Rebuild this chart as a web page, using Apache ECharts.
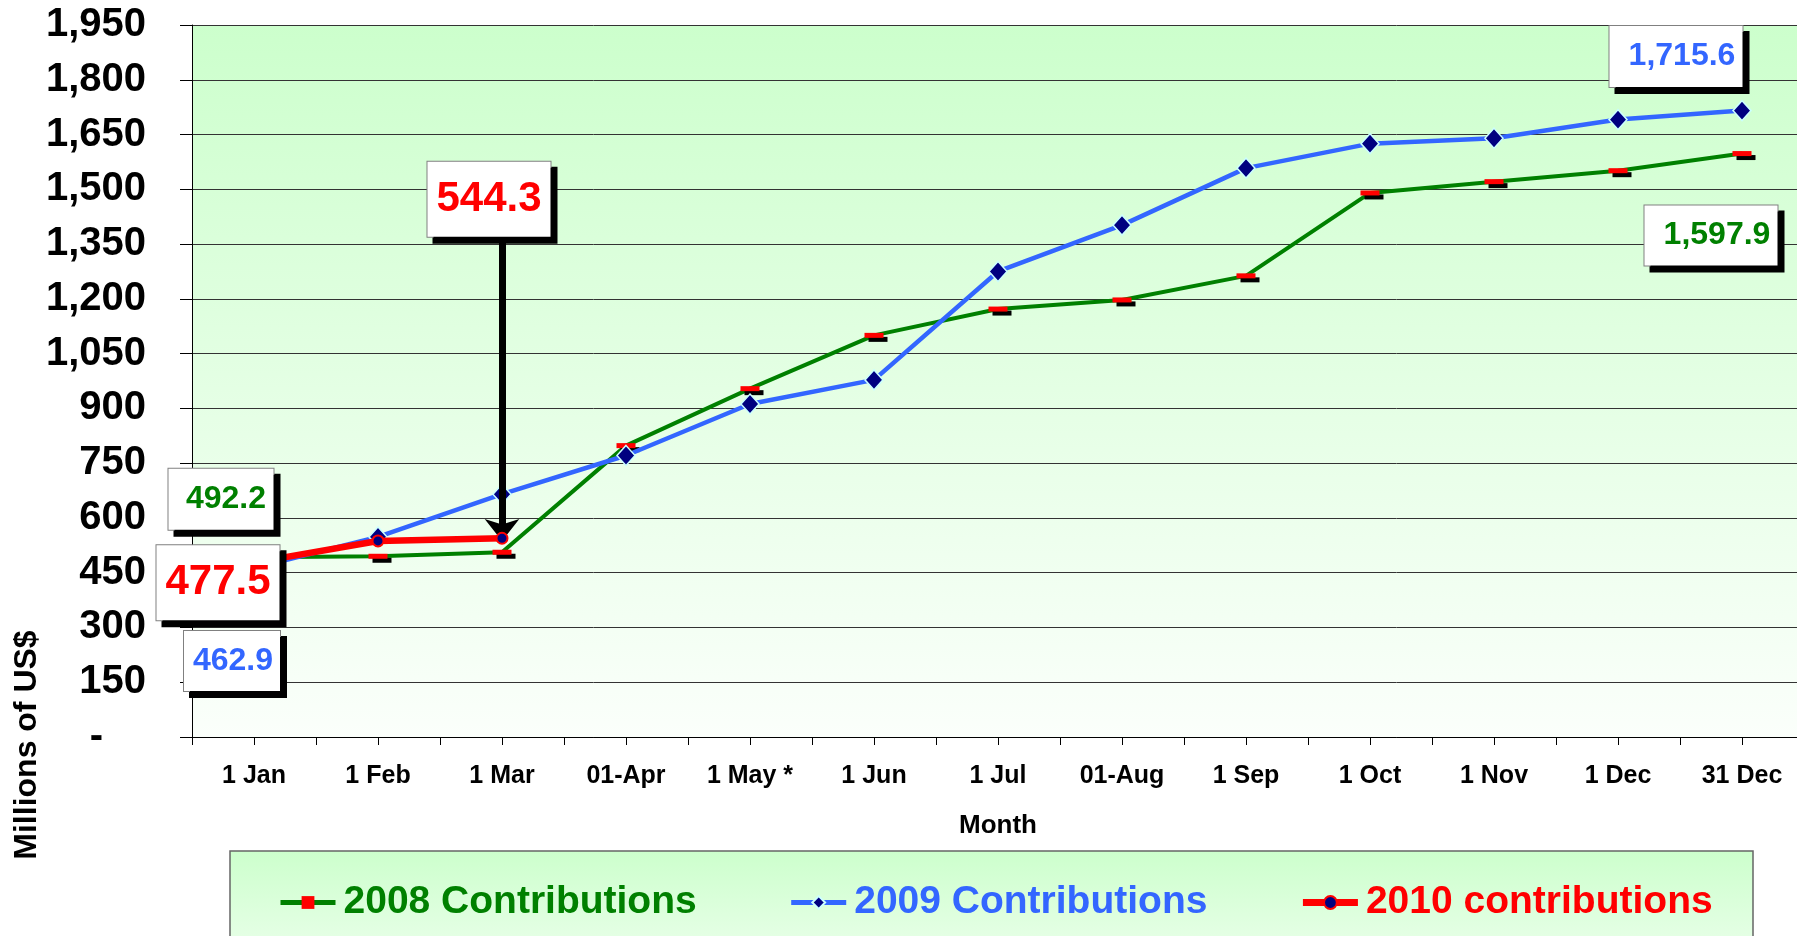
<!DOCTYPE html>
<html>
<head>
<meta charset="utf-8">
<title>Contributions</title>
<script src="https://cdn.jsdelivr.net/npm/echarts@6/dist/echarts.min.js"></script>
<style>
  html, body { margin: 0; padding: 0; background: #fff; }
  #chart { width: 1797px; height: 936px; }
</style>
</head>
<body>
<div id="chart"></div>
<script>
const months = ['1 Jan', '1 Feb', '1 Mar', '01-Apr', '1 May *', '1 Jun', '1 Jul', '01-Aug', '1 Sep', '1 Oct', '1 Nov', '1 Dec', '31 Dec']
const contrib2008 = [492.2, 495, 506, 798, 954, 1100, 1172, 1197, 1263, 1490, 1521, 1551, 1597.9]
const contrib2009 = [462.9, 548, 665, 771, 912, 978, 1275, 1402, 1558, 1625, 1640, 1691, 1715.6]
const contrib2010 = [477.5, 537, 544.3]
const yTicks = { min: 0, max: 1950, step: 150 }

const FONT = "'Liberation Sans', Arial, sans-serif"
const GREEN = '#008000'
const BLUE = '#3366FF'
const RED = '#FF0000'

// callout box style for a data label
function callout(color, size, w, h, offset, pad) {
  return {
    show: true,
    position: 'inside',
    offset: offset,
    align: 'center',
    verticalAlign: 'middle',
    width: w - pad[1] - pad[3],
    height: h,
    lineHeight: h,
    padding: pad,
    color: color,
    fontSize: size,
    fontWeight: 'bold',
    fontFamily: FONT,
    backgroundColor: '#fff',
    borderColor: '#808080',
    borderWidth: 1,
    shadowColor: '#000',
    shadowOffsetX: 6,
    shadowOffsetY: 6,
    shadowBlur: 0,
    formatter: p => p.value.toLocaleString('en-US', { minimumFractionDigits: 1 })
  }
}

const data2008 = contrib2008.map((v, i) => {
  if (i === 0) return { value: v, label: callout(GREEN, 32, 105, 61, [-33, -58], [0, 4, 0, 14]) }
  if (i === contrib2008.length - 1) return { value: v, label: callout(GREEN, 32, 133, 60, [-31, 82], [0, 4, 0, 16]) }
  return v
})
const data2009 = contrib2009.map((v, i) => {
  if (i === 0) return { value: v, label: callout(BLUE, 32, 96, 60, [-22, 93], [0, 2, 0, 4]) }
  if (i === contrib2009.length - 1) return { value: v, label: callout(BLUE, 32, 133, 61, [-66, -54], [0, 4, 0, 16]) }
  return v
})
const data2010 = contrib2010.map((v, i) => {
  if (i === 0) return { value: v, label: callout(RED, 42, 123, 75, [-36, 20], [0, 0, 0, 0]) }
  if (i === contrib2010.length - 1) return { value: v, label: callout(RED, 42, 123, 75, [-13, -339], [0, 0, 0, 0]) }
  return v
})

const chart = echarts.init(document.getElementById('chart'))

const tickLine = { color: '#000', width: 1 }

const option = {
  animation: false,
  grid: {
    left: 192,
    top: 25,
    width: 1612,
    height: 712,
    outerBoundsMode: 'none',
    show: true,
    borderWidth: 0,
    backgroundColor: new echarts.graphic.LinearGradient(0, 0, 0, 1, [
      { offset: 0, color: '#CCFFCC' },
      { offset: 1, color: '#FBFFFB' }
    ])
  },
  legend: {
    left: 278,
    top: 883,
    padding: 0,
    itemWidth: 55,
    itemHeight: 16,
    itemGap: 92,
    textStyle: { fontSize: 39, fontWeight: 'bold', fontFamily: FONT, padding: [0, 0, 0, 3] },
    data: [
      { name: '2008 Contributions', textStyle: { color: GREEN }, lineStyle: { width: 5 } },
      { name: '2009 Contributions', textStyle: { color: BLUE }, lineStyle: { width: 5 } },
      { name: '2010 contributions', textStyle: { color: RED }, lineStyle: { width: 7 } }
    ]
  },
  graphic: [
    {
      type: 'rect',
      z: -1,
      shape: { x: 230, y: 851, width: 1523, height: 120 },
      style: {
        fill: new echarts.graphic.LinearGradient(0, 0, 0, 1, [
          { offset: 0, color: '#CCFFCC' },
          { offset: 1, color: '#EEFFEE' }
        ]),
        stroke: '#666',
        lineWidth: 1.5
      }
    },
    {
      type: 'text',
      x: 27,
      y: 745,
      rotation: Math.PI / 2,
      style: {
        text: 'Millions of US$',
        font: 'bold 32px ' + FONT,
        fill: '#000',
        align: 'center',
        verticalAlign: 'middle'
      }
    }
  ],
  xAxis: [
    {
      type: 'category',
      data: months,
      boundaryGap: true,
      axisLine: { lineStyle: tickLine },
      axisTick: { show: true, interval: 0, length: 8, lineStyle: tickLine },
      axisLabel: { interval: 0, margin: 27, color: '#000', fontSize: 25, fontWeight: 'bold', fontFamily: FONT },
      splitLine: { show: false },
      name: 'Month',
      nameLocation: 'middle',
      nameGap: 76,
      nameTextStyle: { color: '#000', fontSize: 26, fontWeight: 'bold', fontFamily: FONT }
    },
    {
      type: 'category',
      data: months,
      position: 'bottom',
      axisLine: { show: false },
      axisTick: { show: true, alignWithLabel: true, interval: 0, length: 8, lineStyle: tickLine },
      axisLabel: { show: false },
      splitLine: { show: false }
    }
  ],
  yAxis: {
    type: 'value',
    min: yTicks.min,
    max: yTicks.max,
    interval: yTicks.step,
    axisLine: { show: true, lineStyle: tickLine },
    axisTick: { show: true, length: 12, lineStyle: tickLine },
    axisLabel: {
      margin: 46,
      color: '#000',
      fontSize: 40,
      fontWeight: 'bold',
      fontFamily: FONT,
      formatter: v => v === 0 ? '{z|-}' : v.toLocaleString('en-US'),
      rich: {
        z: { fontSize: 40, fontWeight: 'bold', fontFamily: FONT, color: '#000', padding: [0, 43, 0, 0] }
      }
    },
    splitLine: { lineStyle: { color: '#333', width: 1 } }
  },
  series: [
    {
      name: '2008 Contributions',
      type: 'line',
      data: data2008,
      symbol: 'rect',
      symbolSize: [19, 5],
      lineStyle: { color: GREEN, width: 4 },
      itemStyle: { color: RED, shadowColor: '#000', shadowOffsetX: 4, shadowOffsetY: 4, shadowBlur: 0 },
      z: 3
    },
    {
      name: '2009 Contributions',
      type: 'line',
      data: data2009,
      symbol: 'diamond',
      symbolSize: [18, 20],
      lineStyle: { color: BLUE, width: 4.5 },
      itemStyle: { color: '#000080', borderColor: '#CCFFFF', borderWidth: 1.5 },
      z: 4
    },
    {
      name: '2010 contributions',
      type: 'line',
      data: data2010,
      symbol: 'circle',
      symbolSize: 11,
      lineStyle: { color: RED, width: 6.5 },
      itemStyle: { color: '#000080', borderColor: RED, borderWidth: 2 },
      z: 5,
      markLine: {
        silent: true,
        symbol: ['none', 'arrow'],
        symbolSize: [26, 22],
        label: { show: false },
        lineStyle: { color: '#000', width: 7, type: 'solid' },
        data: [[{ coord: [2, 1373] }, { coord: [2, 537] }]]
      }
    }
  ]
}

chart.setOption(option)
</script>
</body>
</html>
